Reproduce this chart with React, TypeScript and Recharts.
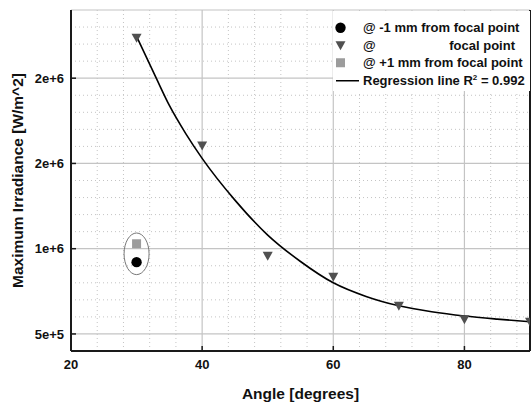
import React from 'react';
import {
  ComposedChart,
  XAxis,
  YAxis,
  CartesianGrid,
  Line,
  Scatter,
  ReferenceLine,
  ReferenceDot,
  Legend,
} from 'recharts';

// measured points (angle in degrees, irradiance in W/m^2)
const focalAngles = [30, 40, 50, 60, 70, 80, 90];
const focalIrr = [2.235e6, 1.602e6, 0.955e6, 0.833e6, 0.663e6, 0.584e6, 0.568e6];
const minusAngles = [30];
const minusIrr = [0.921e6];
const plusAngles = [30];
const plusIrr = [1.029e6];

// regression curve
const regAngles = [30, 33, 35, 37.5, 40, 45, 50, 55, 60, 65, 70, 75, 80, 85, 90];
const regIrr = [2.245e6, 2.0e6, 1.84e6, 1.675e6, 1.53e6, 1.285e6, 1.08e6, 0.925e6, 0.8e6, 0.72e6, 0.665e6, 0.63e6, 0.605e6, 0.587e6, 0.572e6];

// axes
const xTicks = [20, 40, 60, 80];
const yTicks = [5e5, 1e6, 1.5e6, 2e6];
const yTickLabels = ['5e+5', '1e+6', '2e+6', '2e+6'];
const xMinor = [24, 28, 32, 36, 44, 48, 52, 56, 64, 68, 72, 76, 84, 88];
const yMinor = [6e5, 7e5, 8e5, 9e5, 1.1e6, 1.2e6, 1.3e6, 1.4e6, 1.6e6, 1.7e6, 1.8e6, 1.9e6, 2.1e6, 2.2e6, 2.3e6];

const toRows = (xs: number[], ys: number[]) => xs.map((angle, i) => ({ angle, irr: ys[i] }));

const focalData = toRows(focalAngles, focalIrr);
const minusData = toRows(minusAngles, minusIrr);
const plusData = toRows(plusAngles, plusIrr);
const regData = toRows(regAngles, regIrr);

const FONT = '"Liberation Sans", Arial, Helvetica, sans-serif';
const AXIS = '#1a1a1a';
const GRID = '#c4c4c4';
const TRI = '#505050';
const SQ = '#9c9c9c';

const DownTriangle = ({ cx, cy }: any) => (
  <polygon points={`${cx - 5},${cy - 4.5} ${cx + 5},${cy - 4.5} ${cx},${cy + 4.5}`} fill={TRI} />
);
const Dot = ({ cx, cy }: any) => <circle cx={cx} cy={cy} r={5.2} fill="#000" />;
const Square = ({ cx, cy }: any) => <rect x={cx - 4.5} y={cy - 4.5} width={9} height={9} fill={SQ} />;
const Ellipse = ({ cx, cy }: any) => (
  <ellipse cx={cx} cy={cy} rx={12.5} ry={20.8} fill="none" stroke="#777" strokeWidth={1} />
);

const tickStyle = { fontFamily: FONT, fontSize: 13, fontWeight: 700, fill: '#111' };

const LegendRow = ({ marker, children }: any) => (
  <div style={{ display: 'flex', alignItems: 'center', height: 17.5 }}>
    <svg width={30} height={17.5} style={{ flex: 'none' }}>
      {marker}
    </svg>
    {children}
  </div>
);

const LegendBox = () => (
  <div
    style={{
      background: '#fff',
      width: 197,
      height: 80,
      paddingTop: 8,
      boxSizing: 'border-box',
      fontFamily: FONT,
      fontSize: 13,
      fontWeight: 700,
      color: '#111',
      lineHeight: '17.5px',
      whiteSpace: 'nowrap',
    }}
  >
    <LegendRow marker={<Dot cx={7.5} cy={8.75} />}>@ -1 mm from focal point</LegendRow>
    <LegendRow marker={<DownTriangle cx={7.5} cy={8.75} />}>
      <span style={{ display: 'inline-flex', justifyContent: 'space-between', width: 152 }}>
        <span>@</span>
        <span>focal point</span>
      </span>
    </LegendRow>
    <LegendRow marker={<Square cx={7.5} cy={8.75} />}>@ +1 mm from focal point</LegendRow>
    <LegendRow marker={<line x1={3} x2={26} y1={8.75} y2={8.75} stroke="#000" strokeWidth={1.5} />}>
      <span>
        Regression line R<sup style={{ fontSize: 8, lineHeight: 0 }}>2</sup> = 0.992
      </span>
    </LegendRow>
  </div>
);

export default function App() {
  return (
    <div style={{ position: 'absolute', left: 0, top: 0, width: 531, height: 403, background: '#fff' }}>
      <ComposedChart width={531} height={403} margin={{ top: 10, right: 1, left: 0, bottom: 0 }}>
        <CartesianGrid stroke={GRID} strokeWidth={1.2} />
        {xMinor.map((v) => (
          <ReferenceLine key={`vx-${v}`} x={v} stroke={GRID} strokeWidth={1} strokeDasharray="1 3" />
        ))}
        {yMinor.map((v) => (
          <ReferenceLine key={`hy-${v}`} y={v} stroke={GRID} strokeWidth={1} strokeDasharray="1 3" />
        ))}
        <XAxis
          dataKey="angle"
          type="number"
          domain={[20, 90]}
          ticks={xTicks}
          allowDataOverflow
          height={52}
          tickSize={-5}
          tickMargin={14}
          tick={tickStyle}
          axisLine={{ stroke: AXIS, strokeWidth: 2 }}
          tickLine={{ stroke: AXIS, strokeWidth: 1.5 }}
          label={{
            value: 'Angle [degrees]',
            position: 'insideBottom',
            offset: 4.5,
            style: { fontFamily: FONT, fontSize: 15.5, fontWeight: 700, fill: '#111' },
          }}
        />
        <XAxis
          xAxisId="top"
          orientation="top"
          dataKey="angle"
          type="number"
          domain={[20, 90]}
          ticks={xTicks}
          allowDataOverflow
          height={0}
          tickSize={-5}
          tickFormatter={() => ''}
          axisLine={{ stroke: AXIS, strokeWidth: 2 }}
          tickLine={{ stroke: AXIS, strokeWidth: 1.5 }}
        />
        <YAxis
          dataKey="irr"
          type="number"
          domain={[4e5, 2.4e6]}
          ticks={yTicks}
          allowDataOverflow
          width={71}
          tickSize={-5}
          tickMargin={12}
          tick={tickStyle}
          tickFormatter={(v: number) => yTickLabels[yTicks.indexOf(v)] ?? ''}
          axisLine={{ stroke: AXIS, strokeWidth: 2 }}
          tickLine={{ stroke: AXIS, strokeWidth: 1.5 }}
          label={{
            value: 'Maximum Irradiance [W/m^2]',
            angle: -90,
            position: 'insideLeft',
            offset: 17,
            style: { fontFamily: FONT, fontSize: 15.5, fontWeight: 700, fill: '#111', textAnchor: 'middle' },
          }}
        />
        <ReferenceLine x={90} stroke={AXIS} strokeWidth={2} />
        <ReferenceDot x={30} y={0.97e6} shape={Ellipse} />
        <Line
          data={regData}
          dataKey="irr"
          type="monotone"
          stroke="#000"
          strokeWidth={1.6}
          dot={false}
          activeDot={false}
          isAnimationActive={false}
          legendType="none"
        />
        <Scatter data={focalData} dataKey="irr" shape={DownTriangle} isAnimationActive={false} />
        <Scatter data={minusData} dataKey="irr" shape={Dot} isAnimationActive={false} />
        <Scatter data={plusData} dataKey="irr" shape={Square} isAnimationActive={false} />
        <Legend
          layout="vertical"
          align="center"
          verticalAlign="middle"
          content={<LegendBox />}
          wrapperStyle={{ top: 11, left: 333, width: 197, height: 80 }}
        />
      </ComposedChart>
    </div>
  );
}
